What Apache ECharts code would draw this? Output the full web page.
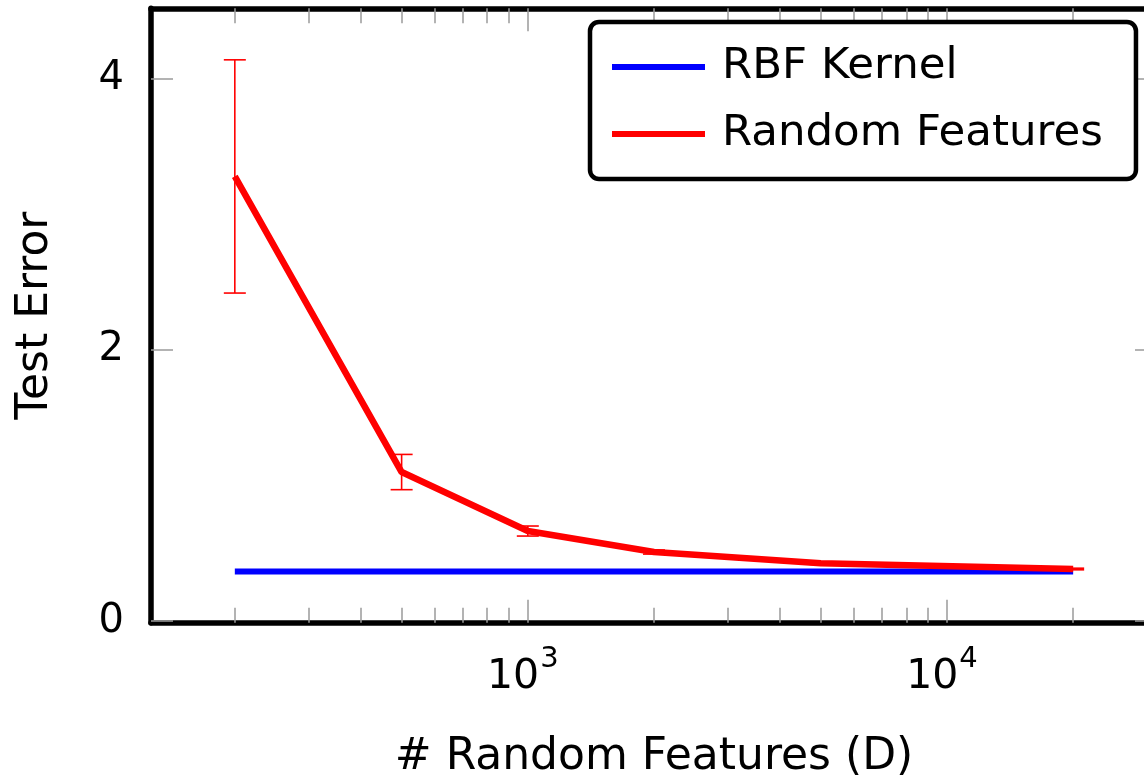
<!DOCTYPE html>
<html><head><meta charset="utf-8">
<script src="https://cdn.jsdelivr.net/npm/echarts@6/dist/echarts.min.js"></script>
<style>html,body{margin:0;padding:0;background:#fff}#c{width:1144px;height:778px}</style>
</head><body><div id="c"></div>
<script>
// ---- data ----
const features = [200, 500, 1000, 2000, 5000, 20000];
const randomFeaturesError = [3.28, 1.10, 0.665, 0.51, 0.427, 0.385];
const randomFeaturesStd = [0.86, 0.13, 0.037, 0.015, 0.008, 0.006];
const rbfKernelError = [0.366, 0.366, 0.366, 0.366, 0.366, 0.366];
const xMajorTicks = [1000, 10000];
const xMinorTicks = [200, 300, 400, 500, 600, 700, 800, 900, 2000, 3000, 4000, 5000, 6000, 7000, 8000, 9000, 20000, 30000];
const yTicks = [0, 2, 4];
const seriesNames = ['RBF Kernel', 'Random Features'];
const xAxisTitle = '# Random Features (D)';
const yAxisTitle = 'Test Error';
const xRange = [126.2, 31700];
const yRange = [-0.011, 4.52];

// ---- chart ----
const FONT = 'DejaVu Sans';
const lg = v => Math.log10(v);
const chart = echarts.init(document.getElementById('c'), null, {renderer: 'canvas'});

const tickGray = {color: '#9a9a9a', width: 1.5};
function xAx(opts) {
  return Object.assign({
    type: 'value', min: lg(xRange[0]), max: lg(xRange[1]),
    splitLine: {show: false},
    axisLine: {show: false, onZero: false},
    axisLabel: {show: false},
    axisTick: {show: false}
  }, opts);
}

const option = {
  animation: false,
  backgroundColor: '#fff',
  textStyle: {fontFamily: FONT},
  grid: {left: 151, top: 8.3, width: 1006, height: 614.4, containLabel: false, outerBoundsMode: 'none'},
  legend: {
    data: seriesNames.map(n => ({name: n, icon: 'rect'})),
    orient: 'vertical', left: 590, top: 22,
    itemWidth: 93, itemHeight: 6, itemGap: 23,
    padding: [23, 33, 23, 22],
    backgroundColor: '#fff', borderColor: '#000', borderWidth: 4.5, borderRadius: 9,
    selectedMode: false,
    textStyle: {fontFamily: FONT, fontSize: 43.5, color: '#000', lineHeight: 43, padding: [0, 0, 0, 12]}
  },
  xAxis: [
    xAx({
      position: 'bottom',
      axisLine: {show: true, onZero: false, lineStyle: {color: '#000', width: 5.5}},
      axisTick: {show: true, inside: true, length: 23, customValues: xMajorTicks.map(lg), lineStyle: tickGray},
      axisLabel: {
        show: true, margin: 22, customValues: xMajorTicks.map(lg),
        formatter: v => '{b|10}{s|' + Math.round(v) + '}',
        rich: {
          b: {fontFamily: FONT, fontSize: 41, color: '#000', verticalAlign: 'bottom'},
          s: {fontFamily: FONT, fontSize: 29, color: '#000', verticalAlign: 'top', padding: [0, 10, 24, 1]}
        }
      },
      name: xAxisTitle, nameLocation: 'middle', nameGap: 113,
      nameTextStyle: {fontFamily: FONT, fontSize: 44, color: '#000'}
    }),
    xAx({
      position: 'bottom',
      axisTick: {show: true, inside: true, length: 15, customValues: xMinorTicks.map(lg), lineStyle: tickGray}
    }),
    xAx({
      position: 'top',
      axisLine: {show: true, onZero: false, lineStyle: {color: '#000', width: 5.5}},
      axisTick: {show: true, inside: true, length: 23, customValues: xMajorTicks.map(lg), lineStyle: tickGray}
    }),
    xAx({
      position: 'top',
      axisTick: {show: true, inside: true, length: 15, customValues: xMinorTicks.map(lg), lineStyle: tickGray}
    })
  ],
  yAxis: [
    {
      type: 'value', position: 'left', min: yRange[0], max: yRange[1],
      splitLine: {show: false},
      axisLine: {show: true, onZero: false, lineStyle: {color: '#000', width: 5.5}},
      axisTick: {show: true, inside: true, length: 22, customValues: yTicks, lineStyle: tickGray},
      axisLabel: {show: true, customValues: yTicks, margin: 27, fontFamily: FONT, fontSize: 40, color: '#000'},
      name: yAxisTitle, nameLocation: 'middle', nameGap: 93, nameRotate: 90,
      nameTextStyle: {fontFamily: FONT, fontSize: 44, color: '#000'}
    },
    {
      type: 'value', position: 'right', min: yRange[0], max: yRange[1],
      splitLine: {show: false},
      axisLine: {show: false, onZero: false},
      axisTick: {show: true, inside: true, length: 22, customValues: yTicks, lineStyle: tickGray},
      axisLabel: {show: false}
    }
  ],
  series: [
    {
      name: seriesNames[0], type: 'line', xAxisIndex: 0, yAxisIndex: 0,
      data: features.map((d, i) => [lg(d), rbfKernelError[i]]),
      color: '#0000ff', symbol: 'none', showSymbol: false,
      lineStyle: {color: '#0000ff', width: 6}, z: 2
    },
    {
      name: seriesNames[1], type: 'line', xAxisIndex: 0, yAxisIndex: 0,
      data: features.map((d, i) => [lg(d), randomFeaturesError[i]]),
      color: '#ff0000', symbol: 'none', showSymbol: false,
      lineStyle: {color: '#ff0000', width: 6.5}, z: 3
    },
    {
      name: 'errors', type: 'custom', xAxisIndex: 0, yAxisIndex: 0, z: 4,
      data: features.map((d, i) => [lg(d), randomFeaturesError[i] - randomFeaturesStd[i], randomFeaturesError[i] + randomFeaturesStd[i]]),
      encode: {x: 0, y: [1, 2]},
      renderItem: function (params, api) {
        const x = api.value(0);
        const top = api.coord([x, api.value(2)]);
        const bot = api.coord([x, api.value(1)]);
        const w = 11;
        const st = {stroke: '#ff0000', lineWidth: 1.6};
        return {type: 'group', children: [
          {type: 'line', shape: {x1: top[0], y1: top[1], x2: bot[0], y2: bot[1]}, style: st},
          {type: 'line', shape: {x1: top[0] - w, y1: top[1], x2: top[0] + w, y2: top[1]}, style: st},
          {type: 'line', shape: {x1: bot[0] - w, y1: bot[1], x2: bot[0] + w, y2: bot[1]}, style: st}
        ]};
      }
    }
  ]
};
chart.setOption(option);
</script>
</body></html>
